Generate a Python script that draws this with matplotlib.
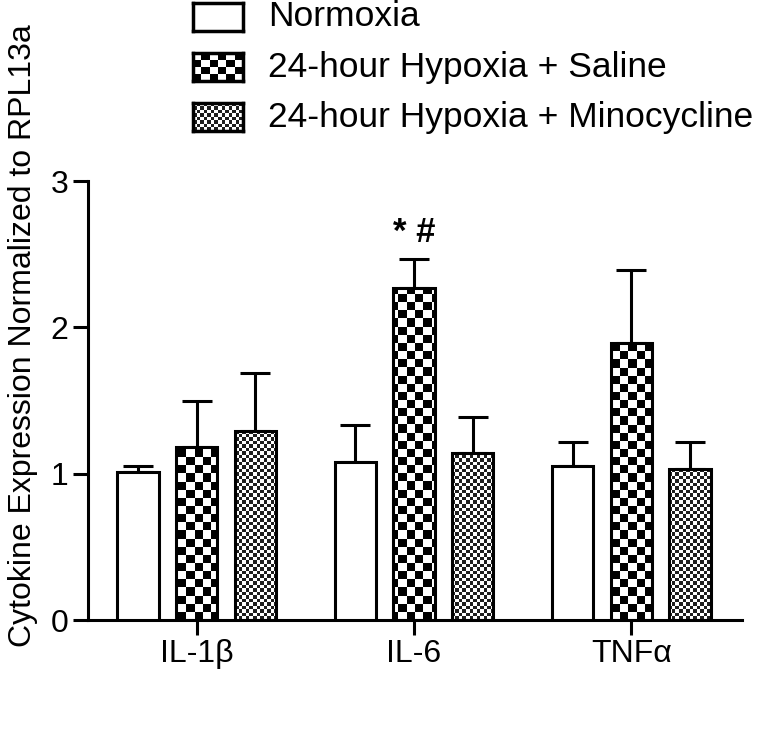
import numpy as np
import matplotlib
matplotlib.use("Agg")
import matplotlib.pyplot as plt

plt.rcParams["font.family"] = ["Liberation Sans", "DejaVu Sans"]

categories = ["IL-1β", "IL-6", "TNFα"]
groups = [
    "Normoxia",
    "24-hour Hypoxia + Saline",
    "24-hour Hypoxia + Minocycline",
]
normoxia = [1.01, 1.08, 1.05]
normoxia_err = [0.04, 0.25, 0.17]
saline = [1.18, 2.27, 1.89]
saline_err = [0.32, 0.20, 0.50]
minocycline = [1.29, 1.14, 1.03]
minocycline_err = [0.40, 0.25, 0.19]
annotation = "* #"


def checker(nx, ny):
    return np.indices((ny, nx)).sum(axis=0) % 2


patterns = {
    "open": None,
    "coarse": (checker(80, 54), ["white", "black"]),
    "fine": (checker(187, 125), ["white", "#1e1e1e"]),
}

fig = plt.figure(figsize=(7.65, 7.5), dpi=100)
ax = fig.add_axes([0.115, 0.1733, 0.855, 0.5853])

x = np.arange(len(categories))
width = 0.19
offset = 0.27
series = [
    (normoxia, normoxia_err, "open", -offset),
    (saline, saline_err, "coarse", 0.0),
    (minocycline, minocycline_err, "fine", offset),
]

ax.set_xlim(-0.5, 2.51)
ax.set_ylim(0, 3)

for vals, errs, pat, dx in series:
    bars = ax.bar(x + dx, vals, width, facecolor="white", edgecolor="black",
                  linewidth=2.2, zorder=3)
    ax.errorbar(x + dx, vals, yerr=[np.zeros(len(errs)), errs], fmt="none",
                ecolor="black", elinewidth=2.2, capsize=11, capthick=2.2,
                zorder=2)
    if patterns[pat] is None:
        continue
    img, cols = patterns[pat]
    cmap = matplotlib.colors.ListedColormap(cols)
    for b in bars:
        b.set_facecolor("none")
        im = ax.imshow(img, cmap=cmap, extent=[-0.5, 2.51, 0, 3],
                       aspect="auto", interpolation="nearest", zorder=2.5,
                       origin="lower")
        im.set_clip_path(b)

ax.set_xlim(-0.5, 2.51)
ax.set_ylim(0, 3)

ax.text(x[1], 2.585, annotation, ha="center", va="baseline", fontsize=25,
        fontweight="bold")

for side in ["top", "right"]:
    ax.spines[side].set_visible(False)
for side in ["left", "bottom"]:
    ax.spines[side].set_linewidth(2.2)

ax.set_yticks([0, 1, 2, 3])
ax.set_xticks(x)
ax.set_xticklabels(categories)
ax.tick_params(axis="both", width=2.2, length=11, labelsize=23)
ax.tick_params(axis="x", pad=3)
ax.tick_params(axis="y", pad=3)
ax.set_ylabel("Cytokine Expression Normalized to RPL13a", fontsize=23)
ax.yaxis.set_label_coords(-0.076, 0.647)

# legend drawn by hand so the swatches carry the same checker fills
row_y = [17, 67, 117]
for label, pat, yc in zip(groups, ["open", "coarse", "fine"], row_y):
    sw = fig.add_axes([193 / 765, 1 - (yc + 14) / 750, 50 / 765, 28 / 750])
    if patterns[pat] is not None:
        img, cols = patterns[pat]
        cmap = matplotlib.colors.ListedColormap(cols)
        sw.imshow(img[:4, :6] if pat == "coarse" else img[:8, :14],
                  cmap=cmap, aspect="auto", interpolation="nearest")
    sw.set_xticks([])
    sw.set_yticks([])
    for s in sw.spines.values():
        s.set_linewidth(2.5)
    fig.text(268 / 765, 1 - yc / 750, label, fontsize=25.5, va="center",
             ha="left")

fig.savefig("out.png", dpi=100)
